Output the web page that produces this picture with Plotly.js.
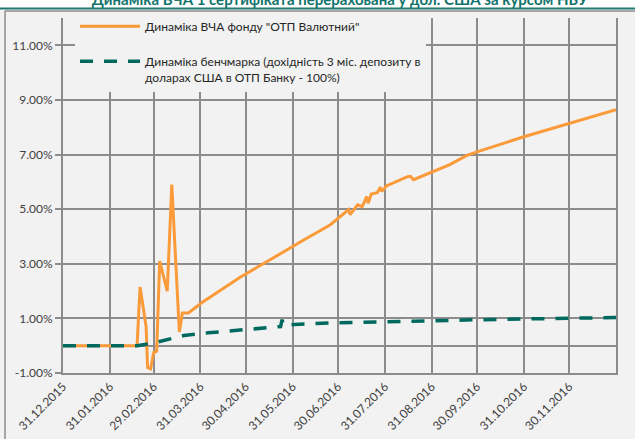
<!DOCTYPE html>
<html><head><meta charset="utf-8">
<script src="https://cdn.plot.ly/plotly-3.0.1.min.js"></script>
<style>html,body{margin:0;padding:0;background:#f2f2f2;}#chart{width:635px;height:439px;}</style>
</head><body><div id="chart"></div>
<script>
const titleText = "Динаміка ВЧА 1 сертифіката перерахована у дол. США за курсом НБУ";
const fundName = "Динаміка ВЧА фонду \"ОТП Валютний\"";
const benchName = "Динаміка бенчмарка (дохідність 3 міс. депозиту в<br>доларах США в ОТП Банку - 100%)";

const fundDates = ["2015-12-31","2016-02-18","2016-02-20","2016-02-24","2016-02-25","2016-02-27","2016-02-29","2016-03-02","2016-03-04","2016-03-09","2016-03-12","2016-03-17","2016-03-19","2016-03-23","2016-04-01","2016-04-11","2016-04-26","2016-05-31","2016-06-05","2016-06-25","2016-07-07","2016-07-08","2016-07-13","2016-07-16","2016-07-19","2016-07-20","2016-07-22","2016-07-26","2016-07-28","2016-07-29","2016-08-01","2016-08-15","2016-08-17","2016-08-19","2016-09-01","2016-09-12","2016-09-23","2016-09-30","2016-10-31","2016-11-30","2016-12-31"];
const fundValues = [0,0,2.15,0.7,-0.8,-0.85,-0.25,-0.2,3.1,2.0,5.9,0.5,1.2,1.2,1.58,1.95,2.5,3.63,3.8,4.43,4.98,4.8,5.16,5.09,5.46,5.22,5.55,5.6,5.8,5.65,5.85,6.19,6.2,6.08,6.37,6.63,6.96,7.1,7.65,8.15,8.64];

const benchDates = ["2015-12-31","2016-02-18","2016-02-29","2016-03-10","2016-03-20","2016-04-05","2016-04-24","2016-05-12","2016-05-23","2016-05-24","2016-05-25","2016-06-01","2016-06-30","2016-07-31","2016-08-31","2016-09-30","2016-10-31","2016-11-30","2016-12-31"];
const benchValues = [0,0,0.1,0.22,0.37,0.47,0.57,0.65,0.7,0.95,0.74,0.78,0.84,0.87,0.92,0.95,0.98,1.0,1.03];

const tickDates = ["2015-12-31","2016-01-31","2016-02-29","2016-03-31","2016-04-30","2016-05-31","2016-06-30","2016-07-31","2016-08-31","2016-09-30","2016-10-31","2016-11-30","2016-12-31"];
const tickLabels = ["31.12.2015","31.01.2016","29.02.2016","31.03.2016","30.04.2016","31.05.2016","30.06.2016","31.07.2016","31.08.2016","30.09.2016","31.10.2016","30.11.2016",""];
const yTicks = [-1,1,3,5,7,9,11];
const yLabels = ["-1.00%","1.00%","3.00%","5.00%","7.00%","9.00%","11.00%"];

const W = 635, H = 439, M = {l:63, r:19, t:18, b:66};
const pw = W - M.l - M.r, ph = H - M.t - M.b;
const px = x => (x - M.l) / pw;
const py = y => (H - M.b - y) / ph;
const grid = '#8c8c8c';
const font = 'Lato, "Open Sans", sans-serif';

const traces = [
  {x: fundDates, y: fundValues, type:'scatter', mode:'lines', name: fundName, legendgroup:'a',
   line:{color:'#fa9a38', width:3}},
  {x: benchDates, y: benchValues, type:'scatter', mode:'lines', name: benchName, legendgroup:'b',
   line:{color:'#00695f', width:3.5, dash:'13px,11px'}}
];

const layout = {
  width: W, height: H, margin: M,
  paper_bgcolor:'#f2f2f2', plot_bgcolor:'#f2f2f2',
  title:{text:'<b>'+titleText+'</b>', font:{family:font, size:15, color:'#11736b'},
         x:0.535, xanchor:'center', yref:'container', y:1, yanchor:'middle'},
  xaxis:{type:'date', range:['2015-12-31','2016-12-31'], tickvals: tickDates, ticktext: tickLabels,
         tickangle:-45, showgrid:true, gridcolor:grid, gridwidth:2, showline:true, linecolor:grid, linewidth:2,
         ticks:'', tickfont:{family:font, size:12, color:'#404040'}, zeroline:false},
  yaxis:{range:[-1,12], tickvals: yTicks, ticktext: yLabels, showgrid:true, gridcolor:grid, gridwidth:2,
         zeroline:true, zerolinecolor:grid, zerolinewidth:2, showline:true, mirror:true, linecolor:grid, linewidth:2,
         ticks:'outside', ticklen:6, tickwidth:2, tickcolor:grid, tickfont:{family:font, size:12, color:'#404040'}},
  legend:{x: px(75), y: py(12), xanchor:'left', yanchor:'top', bgcolor:'#f2f2f2', borderwidth:0,
          font:{family:font, size:12, color:'#262626'}, traceorder:'grouped', tracegroupgap:16, valign:'top', itemwidth:60},
  shapes:[
    {type:'rect', xref:'paper', yref:'paper', x0:px(-2), x1:px(W+2), y0:py(9), y1:py(-2), fillcolor:'#ffffff', line:{width:0}, layer:'below'},
    {type:'line', xref:'paper', yref:'paper', x0:px(-2), x1:px(W+2), y0:py(8.5), y1:py(8.5), line:{color:'#1f7a72', width:2}},
    {type:'line', xref:'paper', yref:'paper', x0:px(5), x1:px(W+2), y0:py(11), y1:py(11), line:{color:'#8c8c8c', width:1.5}},
    {type:'line', xref:'paper', yref:'paper', x0:px(5), x1:px(5), y0:py(11), y1:py(H+2), line:{color:'#8c8c8c', width:1.5}}
  ],
  showlegend:true
};
Plotly.newPlot('chart', traces, layout, {displayModeBar:false, staticPlot:true});
</script></body></html>
